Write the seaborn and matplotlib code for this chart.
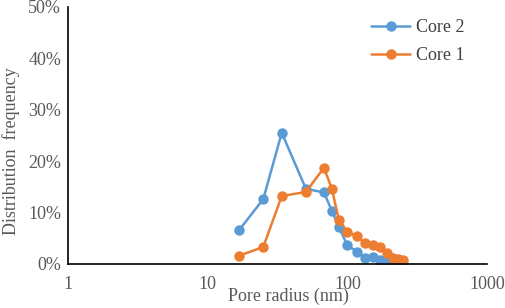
import numpy as np
import pandas as pd
import matplotlib.pyplot as plt
import seaborn as sns
from matplotlib.ticker import FuncFormatter, LogLocator, NullFormatter

# pore radius (nm) and distribution frequency (%)
radius = [16.8, 25, 33.9, 50.5, 68, 77.5, 87, 100, 117, 134, 153, 170, 192, 212, 230, 250]
core2 = [6.6, 12.6, 25.5, 14.6, 13.9, 10.3, 7.2, 3.6, 2.4, 1.1, 1.3, 0.8, 0.4, 0.2, 0.1, 0.05]
core1 = [1.6, 3.3, 13.2, 14.0, 18.7, 14.6, 8.5, 6.3, 5.4, 4.0, 3.6, 3.3, 2.2, 1.1, 1.0, 0.7]

df = pd.DataFrame({
    'radius': radius * 2,
    'freq': core2 + core1,
    'core': ['Core 2'] * len(radius) + ['Core 1'] * len(radius),
})

sns.set_style('white')
plt.rcParams['font.family'] = ['Liberation Serif', 'DejaVu Serif']

fig = plt.figure(figsize=(5.05, 3.08), dpi=100)
ax = fig.add_axes([0.1347, 0.143, 0.8297, 0.835])

sns.lineplot(data=df, x='radius', y='freq', hue='core', hue_order=['Core 2', 'Core 1'],
             palette=['#5B9BD5', '#ED7D31'], marker='o', markersize=7.5,
             markeredgewidth=0, linewidth=1.8, ax=ax)

ax.set_xscale('log')
ax.set_xlim(1, 1000)
ax.set_ylim(0, 50)
ax.set_yticks(range(0, 51, 10))
ax.yaxis.set_major_formatter(FuncFormatter(lambda v, p: f'{v:.0f}%'))
ax.xaxis.set_major_formatter(FuncFormatter(lambda v, p: f'{v:g}'))
ax.xaxis.set_minor_locator(LogLocator(base=10, subs=np.arange(2, 10)))
ax.xaxis.set_minor_formatter(NullFormatter())

for s in ['top', 'right']:
    ax.spines[s].set_visible(False)
for s in ['left', 'bottom']:
    ax.spines[s].set_color('black')
    ax.spines[s].set_linewidth(1.2)

fs = 13
ax.tick_params(axis='both', which='both', direction='in', colors='black',
               labelcolor='#595959', labelsize=fs, length=4, width=1)
ax.tick_params(axis='x', which='major', pad=9)
ax.tick_params(axis='y', which='major', pad=5)
ax.tick_params(axis='y', which='minor', left=False)

ax.set_xlabel('Pore radius (nm)', fontsize=fs, color='#595959')
ax.xaxis.set_label_coords(0.526, -0.092)
ax.set_ylabel('Distribution  frequency', fontsize=fs, color='#595959')
ax.yaxis.set_label_coords(-0.115, 0.44)

leg = ax.legend(loc='upper right', bbox_to_anchor=(0.985, 1.015), frameon=False,
                fontsize=fs, handlelength=2.2, labelspacing=0.6, handletextpad=0.3)
for t in leg.get_texts():
    t.set_color('#404040')

fig.savefig('out.png', dpi=100)
